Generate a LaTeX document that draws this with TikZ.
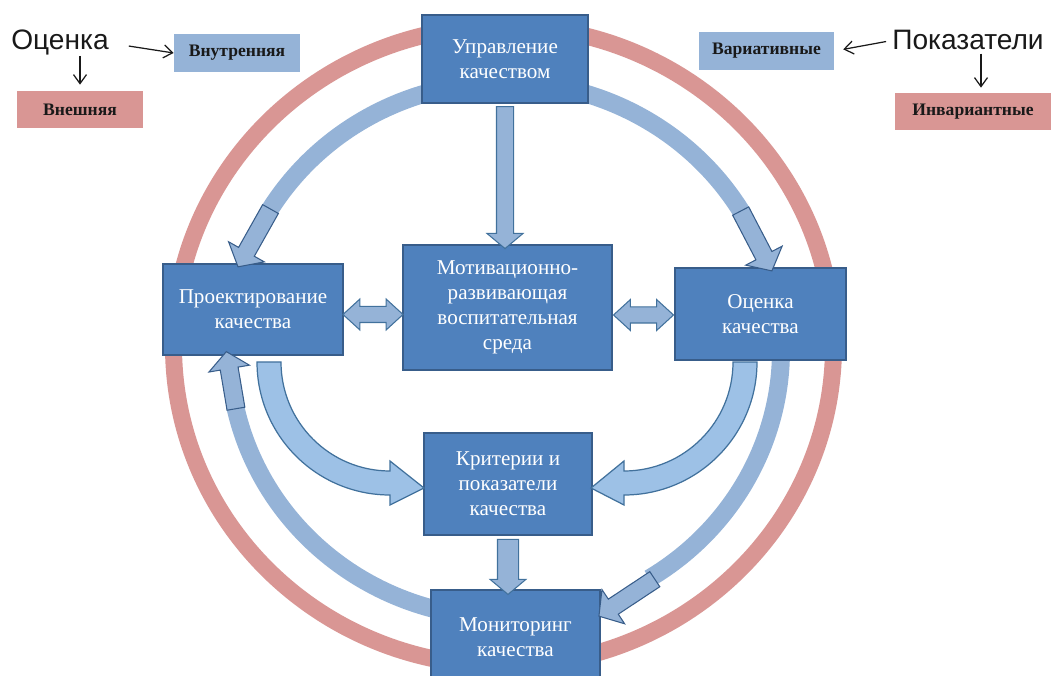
\documentclass[tikz,border=0pt]{standalone}
\usepackage{fontspec}
\setmainfont{Liberation Serif}
\newfontfamily\labelsans{Liberation Sans}
\usetikzlibrary{shapes.arrows,arrows.meta}

\definecolor{boxfill}{RGB}{79,129,189}
\definecolor{boxline}{RGB}{56,93,138}
\definecolor{ringred}{RGB}{217,150,148}
\definecolor{ringblue}{RGB}{149,179,215}
\definecolor{arrline}{RGB}{65,113,156}
\definecolor{curvefill}{RGB}{157,193,230}

\tikzset{
	box/.style={draw=boxline, fill=boxfill, text=white, align=center, inner sep=0pt,
		line width=0.8pt, font=\fontsize{12}{14.2}\selectfont},
	tag/.style={inner sep=0pt, text=black!90, font=\bfseries\fontsize{10}{12}\selectfont},
	bigword/.style={inner sep=0pt, anchor=base, text=black!90, font=\labelsans\fontsize{16}{19}\selectfont},
	redring/.style={ringred, line width=3.4mm},
	bluering/.style={ringblue, line width=3.6mm},
	strarr/.style={single arrow, draw=arrline, fill=ringblue, line width=0.6pt, inner xsep=0pt,
		inner ysep=1.6mm, single arrow head extend=1.9mm, single arrow tip angle=100,
		sloped, allow upside down},
	ringarr/.style={strarr, draw=boxline, inner ysep=1.7mm, single arrow head extend=2.3mm},
	dblarr/.style={double arrow, draw=arrline, fill=ringblue, line width=0.6pt, inner xsep=0pt,
		inner ysep=1.5mm, double arrow head extend=1.5mm, double arrow tip angle=85,
		sloped, allow upside down},
	curvearr/.style={draw=arrline, fill=curvefill, line width=0.7pt},
	thinarr/.style={-{Straight Barb[length=1.8mm,width=2.6mm]}, line width=0.7pt, black!90}
}

\begin{document}
\begin{tikzpicture}[x=0.2mm, y=0.2mm]
	\clip (0,0) rectangle (1051,675);
	% rings
	\draw[redring] (503.5,329) ellipse [x radius=330, y radius=320];
	\coordinate (tA) at ({505+276*cos(147.5)},{325+268*sin(147.5)});
	\coordinate (tB) at ({505+276*cos(32)},{325+268*sin(32)});
	\coordinate (tC) at ({505+276*cos(-56)},{325+268*sin(-56)-4});
	\coordinate (tD) at ({505+276*cos(193.4)},{325+268*sin(193.4)});
	\draw[bluering] ({505+276*cos(149)},{325+268*sin(149)}) arc[start angle=149, end angle=30.5, x radius=276, y radius=268];
	\draw[bluering] ({505+276*cos(5)},{325+268*sin(5)}) arc[start angle=5, end angle=-58.5, x radius=276, y radius=268];
	\draw[bluering] ({505+276*cos(192)},{325+268*sin(192)}) arc[start angle=192, end angle=265, x radius=276, y radius=268];

	\node[box, minimum width=33.2mm, minimum height=17.6mm] (upr) at (505,616) {Управление\\качеством};
	\node[box, minimum width=41.8mm, minimum height=25mm] (motiv) at (507.5,367.5) {Мотивационно-\\развивающая\\воспитательная\\среда};
	\node[box, minimum width=36mm, minimum height=18.2mm] (proj) at (253,365.5) {Проектирование\\качества};
	\node[box, minimum width=34.2mm, minimum height=18.4mm] (ocen) at (760.5,361) {Оценка\\качества};
	\node[box, minimum width=33.6mm, minimum height=20.4mm] (krit) at (508,191) {Критерии и\\показатели\\качества};
	\node[box, minimum width=33.8mm, minimum height=19mm] (monit) at (515.5,37.5) {Мониторинг\\качества};

	% arrows at the ends of the blue ring
	\coordinate (hA) at ([xshift=-2.6mm]proj.north);
	\coordinate (hB) at ([xshift=1.9mm]ocen.north);
	\coordinate (hC) at ([yshift=4.5mm]monit.east);
	\coordinate (hD) at ([xshift=-5.2mm]proj.south);
	\path (tA) -- node[ringarr, minimum height=66.3*0.2mm] {} (hA);
	\path (tB) -- node[ringarr, minimum height=67.5*0.2mm] {} (hB);
	\path (tC) -- node[ringarr, minimum height=67*0.2mm] {} (hC);
	\path (tD) -- node[ringarr, minimum height=57.9*0.2mm] {} (hD);

	% curved arrows to the criteria
	\draw[curvearr] (257,313) arc[start angle=180, end angle=270, radius=133] -- (390,170) -- (424,187)
		-- (390,214) -- (390,204) arc[start angle=270, end angle=180, radius=109] -- cycle;
	\draw[curvearr] (757,313) arc[start angle=0, end angle=-90, radius=133] -- (624,170) -- (591,187)
		-- (624,214) -- (624,204) arc[start angle=-90, end angle=0, radius=109] -- cycle;

	\path (upr.south) -- node[strarr, minimum height=142*0.2mm] {} (upr.south |- motiv.north);
	\path (krit.south) -- node[strarr, minimum height=55*0.2mm, inner ysep=2mm, single arrow head extend=1.5mm] {} (krit.south |- monit.north);
	\path (proj.east) -- node[dblarr, yshift=-1mm, minimum height=60*0.2mm] {} (proj.east -| motiv.west);
	\path (motiv.east) -- node[dblarr, yshift=-1.5mm, minimum height=60*0.2mm] {} (motiv.east -| ocen.west);

	% legend
	\node[bigword] (ocenka) at (60,625) {Оценка};
	\node[tag, fill=ringblue, minimum width=25.2mm, minimum height=7.6mm] (vnutr) at (237,622) {Внутренняя};
	\node[tag, fill=ringred, minimum width=25.2mm, minimum height=7.4mm] (vnesh) at (80,565.5) {Внешняя};
	\draw[thinarr, shorten <=4mm] (ocenka.east) -- (vnutr.west);
	\draw[thinarr, shorten >=1.2mm] (ocenka.south -| vnesh.north) -- (vnesh.north);

	\node[bigword] (pokaz) at (968,625) {Показатели};
	\node[tag, fill=ringblue, minimum width=27mm, minimum height=7.6mm] (variat) at (766.5,624) {Вариативные};
	\node[tag, fill=ringred, minimum width=31.2mm, minimum height=7.4mm] (invar) at (973,563.5) {Инвариантные};
	\draw[thinarr, shorten <=1.2mm, shorten >=1.8mm] (pokaz.west) -- (variat.east);
	\coordinate (pk) at ([xshift=2.6mm]pokaz.south);
	\draw[thinarr, shorten <=0.6mm, shorten >=1mm] (pk) -- (pk |- invar.north);
\end{tikzpicture}
\end{document}
